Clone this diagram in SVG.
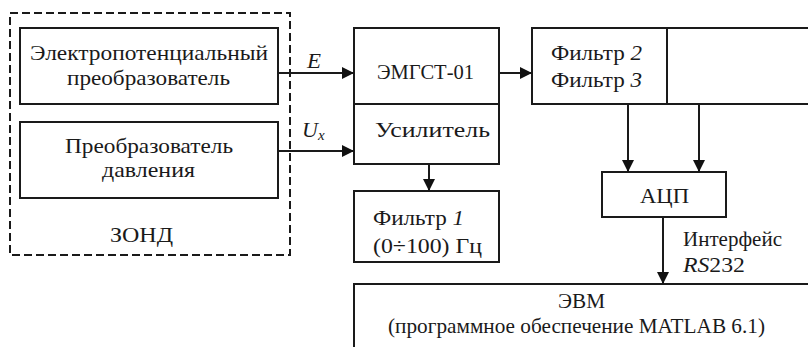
<svg xmlns="http://www.w3.org/2000/svg" width="808" height="347" viewBox="0 0 808 347">
<defs>
<marker id="ah" viewBox="0 0 12 12" refX="12" refY="6" markerWidth="12" markerHeight="12" markerUnits="userSpaceOnUse" orient="auto">
<path d="M0,0 L12,6 L0,12 Z" fill="#111"/>
</marker>
</defs>
<style>
.b{fill:#fff;stroke:#1a1a1a;stroke-width:2}
.t{font-family:"Liberation Serif","Times New Roman",Tinos,"DejaVu Serif",serif;font-size:22px;fill:#1a1a1a}
.i{font-style:italic}
.c{stroke:#1a1a1a;stroke-width:2;fill:none;marker-end:url(#ah)}
</style>
<rect width="808" height="347" fill="#fff"/>
<g id="zond">
<rect x="10" y="13" width="280" height="242" fill="none" stroke="#1a1a1a" stroke-width="2" stroke-dasharray="8,4"/>
<text class="t" x="110" y="242" textLength="63" lengthAdjust="spacingAndGlyphs">ЗОНД</text>
</g>
<g id="electro">
<rect class="b" x="20" y="28" width="258" height="76"/>
<text class="t" x="30" y="60" textLength="238" lengthAdjust="spacingAndGlyphs">Электропотенциальный</text>
<text class="t" x="67" y="85" textLength="163" lengthAdjust="spacingAndGlyphs">преобразователь</text>
</g>
<g id="pressure">
<rect class="b" x="20" y="122" width="258" height="76"/>
<text class="t" x="65" y="153" textLength="168" lengthAdjust="spacingAndGlyphs">Преобразователь</text>
<text class="t" x="102" y="177" textLength="93" lengthAdjust="spacingAndGlyphs">давления</text>
</g>
<g id="emgst">
<rect class="b" x="354" y="28" width="145" height="136"/>
<line x1="354" y1="104" x2="499" y2="104" stroke="#1a1a1a" stroke-width="2"/>
<text class="t" x="377" y="79" textLength="97" lengthAdjust="spacingAndGlyphs">ЭМГСТ-01</text>
<text class="t" x="375" y="137" textLength="115" lengthAdjust="spacingAndGlyphs">Усилитель</text>
</g>
<g id="filters23">
<rect class="b" x="532" y="28" width="300" height="76"/>
<line x1="667" y1="28" x2="667" y2="104" stroke="#1a1a1a" stroke-width="2"/>
<text class="t" x="551" y="60" textLength="91" lengthAdjust="spacingAndGlyphs">Фильтр <tspan class="i">2</tspan></text>
<text class="t" x="551" y="87" textLength="91" lengthAdjust="spacingAndGlyphs">Фильтр <tspan class="i">3</tspan></text>
</g>
<g id="adc">
<rect class="b" x="602" y="172" width="124" height="45"/>
<text class="t" x="640" y="203" textLength="49" lengthAdjust="spacingAndGlyphs">АЦП</text>
</g>
<g id="filter1">
<rect class="b" x="354" y="191" width="145" height="71"/>
<text class="t" x="373" y="225" textLength="91" lengthAdjust="spacingAndGlyphs">Фильтр <tspan class="i">1</tspan></text>
<text class="t" x="373" y="253" textLength="109" lengthAdjust="spacingAndGlyphs">(0÷100) Гц</text>
</g>
<g id="evm">
<rect class="b" x="354" y="284" width="480" height="90"/>
<text class="t" x="558" y="308" textLength="47" lengthAdjust="spacingAndGlyphs">ЭВМ</text>
<text class="t" x="388" y="333" textLength="377" lengthAdjust="spacingAndGlyphs">(программное обеспечение MATLAB 6.1)</text>
</g>
<g id="connectors">
<line class="c" x1="278" y1="73" x2="354" y2="73"/>
<line class="c" x1="278" y1="151" x2="354" y2="151"/>
<line class="c" x1="499" y1="73" x2="532" y2="73"/>
<line class="c" x1="628" y1="104" x2="628" y2="172"/>
<line class="c" x1="699" y1="104" x2="699" y2="172"/>
<line class="c" x1="429" y1="164" x2="429" y2="191"/>
<line class="c" x1="663" y1="217" x2="663" y2="284"/>
<text class="t i" x="307" y="68" textLength="14" lengthAdjust="spacingAndGlyphs">E</text>
<text class="t i" x="302" y="137">U<tspan font-size="15" dy="3">x</tspan></text>
<text class="t" x="683" y="246" textLength="99" lengthAdjust="spacingAndGlyphs">Интерфейс</text>
<text class="t" x="683" y="272" textLength="62" lengthAdjust="spacingAndGlyphs"><tspan class="i">RS</tspan>232</text>
</g>
</svg>
